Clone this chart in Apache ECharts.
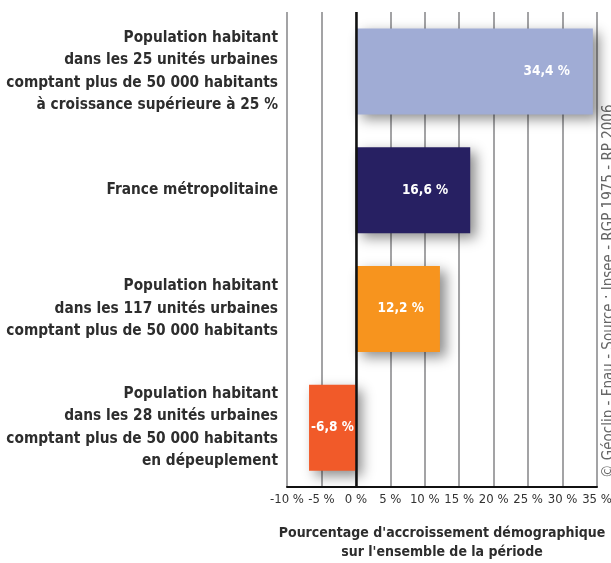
<!DOCTYPE html>
<html>
<head>
<meta charset="utf-8">
<script src="https://cdn.jsdelivr.net/npm/echarts@6/dist/echarts.min.js"></script>
<style>
html,body{margin:0;padding:0;background:#fff;}
#chart{width:611px;height:563px;}
</style>
</head>
<body>
<div id="chart"></div>
<script>
var categories = [
  "Population habitant\ndans les 25 unités urbaines\ncomptant plus de 50 000 habitants\nà croissance supérieure à 25 %",
  "France métropolitaine",
  "Population habitant\ndans les 117 unités urbaines\ncomptant plus de 50 000 habitants",
  "Population habitant\ndans les 28 unités urbaines\ncomptant plus de 50 000 habitants\nen dépeuplement"
];
var values = [34.4, 16.6, 12.2, -6.8];
var valueLabels = ["34,4 %", "16,6 %", "12,2 %", "-6,8 %"];
var barColors = ["#a0acd5", "#272062", "#f7941e", "#f15a29"];
var xTicks = [-10, -5, 0, 5, 10, 15, 20, 25, 30, 35];
var axisTitle = "Pourcentage d'accroissement démographique\nsur l'ensemble de la période";
var sourceText = "© Géoclip - Fnau - Source : Insee - RGP 1975 - RP 2006";

var FONT = "'Liberation Sans Narrow', 'DejaVu Sans Condensed', 'Roboto Condensed', sans-serif";

var labelPos = [
  {position: "insideRight", distance: 23},
  {position: "insideRight", distance: 22},
  {position: "insideRight", distance: 16},
  {position: "inside", distance: 5}
];

var chart = echarts.init(document.getElementById("chart"));
chart.setOption({
  animation: false,
  grid: {left: 287, right: 14, top: 12, bottom: 76, containLabel: false, outerBoundsMode: "none"},
  xAxis: {
    type: "value",
    min: xTicks[0],
    max: xTicks[xTicks.length - 1],
    interval: 5,
    axisLine: {show: true, lineStyle: {color: "#111", width: 2}},
    axisTick: {show: false},
    splitLine: {show: true, showMinLine: true, showMaxLine: true, lineStyle: {color: "#a3a3a5", width: 2}},
    axisLabel: {
      fontFamily: FONT, fontSize: 13, color: "#333", margin: 6,
      showMinLabel: true, showMaxLabel: true, hideOverlap: false,
      formatter: function (v) { return v + " %"; }
    },
    name: axisTitle,
    nameLocation: "middle",
    nameGap: 37,
    nameTextStyle: {fontFamily: FONT, fontSize: 14, fontWeight: "bold", color: "#2d2d2d", lineHeight: 19}
  },
  yAxis: {
    type: "category",
    inverse: true,
    data: categories,
    axisLine: {show: false},
    axisTick: {show: false},
    splitLine: {show: false},
    axisLabel: {
      fontFamily: FONT, fontSize: 15.3, fontWeight: "bold", color: "#2d2d2d",
      align: "right", lineHeight: 22.5, margin: 9
    }
  },
  series: [{
    type: "bar",
    barWidth: 86,
    data: values.map(function (v, i) {
      return {
        value: v,
        itemStyle: {color: barColors[i]},
        label: {
          show: true,
          position: labelPos[i].position,
          distance: labelPos[i].distance,
          formatter: valueLabels[i],
          fontFamily: FONT, fontSize: 13.5, fontWeight: "bold", color: "#fff"
        }
      };
    }),
    itemStyle: {
      shadowBlur: 12,
      shadowColor: "rgba(0,0,0,0.45)",
      shadowOffsetX: 6,
      shadowOffsetY: 5
    },
    markLine: {
      silent: true,
      symbol: "none",
      label: {show: false},
      lineStyle: {color: "#111", width: 2.5, type: "solid"},
      data: [{xAxis: 0}]
    }
  }],
  graphic: [{
    type: "text",
    x: 602,
    y: 478,
    rotation: Math.PI / 2,
    style: {
      text: sourceText,
      fontFamily: FONT,
      fontSize: 15,
      fill: "#666",
      align: "left",
      verticalAlign: "top"
    }
  }]
});
</script>
</body>
</html>
